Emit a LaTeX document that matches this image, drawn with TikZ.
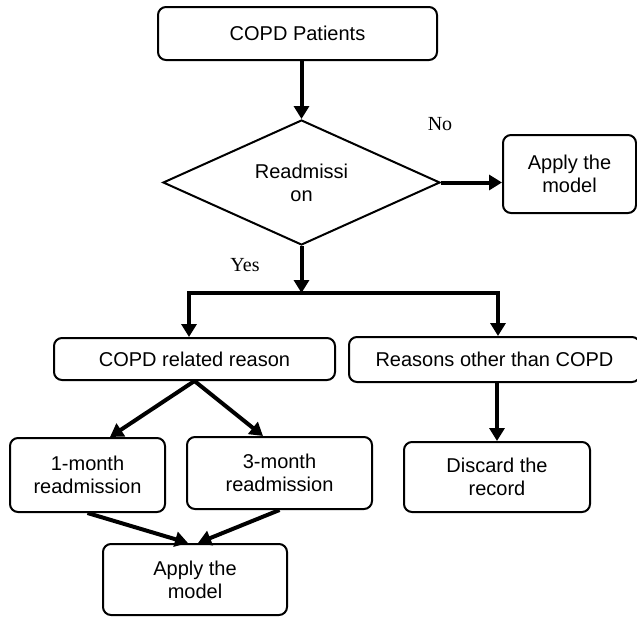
\documentclass[tikz,border=0pt]{standalone}
\usepackage{fontspec}
\setmainfont{Liberation Sans}
\newfontfamily\lblfont{Liberation Serif}
\usetikzlibrary{shapes.geometric,arrows.meta}
\tikzset{
  box/.style={draw, line width=2pt, rounded corners=8pt, align=center, inner sep=0pt,
    font=\fontsize{20}{23}\selectfont},
  decision/.style={draw, diamond, line width=2pt, aspect=2.2, inner sep=0pt, align=center,
    minimum width=277pt, minimum height=125pt, font=\fontsize{20}{23}\selectfont},
  arr/.style={line width=4pt, -{Triangle[length=13pt,width=15pt]}},
  lbl/.style={font=\lblfont\fontsize{20}{23}\selectfont, inner sep=0pt}
}
\begin{document}
\begin{tikzpicture}[x=1pt,y=-1pt]
\useasboundingbox (0,0) rectangle (637,616);
\node[box, minimum width=279pt, minimum height=53pt] (top) at (297.5,33.5) {COPD Patients};
\node[decision] (d) at (301.5,182.5) {Readmissi\\on};
\node[box, minimum width=133pt, minimum height=78pt] (ar) at (569.5,174) {Apply the\\model};
\node[box, minimum width=281pt, minimum height=42pt] (copdrel) at (194.5,359) {COPD related reason};
\node[box, minimum width=291pt, minimum height=45pt] (other) at (494.5,359.5) {Reasons other than COPD};
\node[box, minimum width=155pt, minimum height=74pt] (m1) at (87.5,475) {1-month\\readmission};
\node[box, minimum width=185pt, minimum height=72pt] (m3) at (279.5,473) {3-month\\readmission};
\node[box, minimum width=186pt, minimum height=70pt] (disc) at (497,477) {Discard the\\record};
\node[box, minimum width=184pt, minimum height=71pt] (ab) at (195,579.5) {Apply the\\model};
\node[lbl] (no) at (440,124) {No};
\node[lbl] (yes) at (245,265) {Yes};
\coordinate (j) at (301.5,293);
\draw[arr] (top.south -| d.north) -- (d.north);
\draw[arr] (d.east) -- (d.east -| ar.west);
\draw[arr] (d.south) -- (j);
\draw[line width=4pt] ([xshift=-7.5pt]copdrel.north |- j) -- ([xshift=5.5pt]other.north |- j);
\draw[arr] ([xshift=-5.5pt]copdrel.north |- j) -- ([xshift=-5.5pt]copdrel.north);
\draw[arr] ([xshift=3.5pt]other.north |- j) -- ([xshift=3.5pt]other.north);
\draw[arr] (copdrel.south) -- ([xshift=22.5pt]m1.north);
\draw[arr] (copdrel.south) -- ([xshift=-16.5pt]m3.north);
\draw[arr] (other.south -| disc.north) -- (disc.north);
\draw[arr] (m1.south) -- ([xshift=-7pt]ab.north);
\draw[arr] (m3.south) -- ([xshift=3pt]ab.north);
\end{tikzpicture}
\end{document}
